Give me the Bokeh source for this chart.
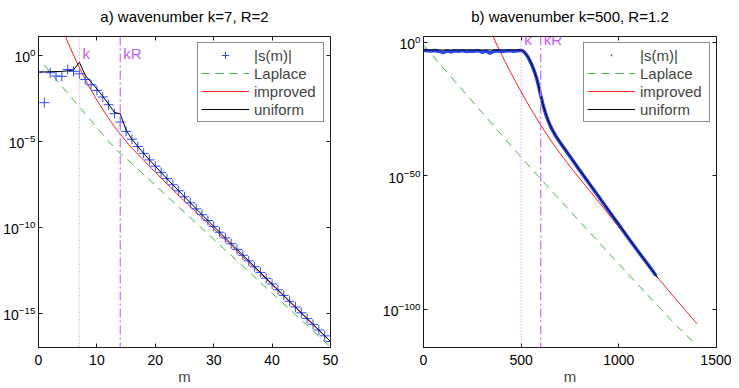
from bokeh.plotting import figure
from bokeh.models import (Range1d, FixedTicker, LogAxis, LinearAxis, Span, Label,
                          Legend, LegendItem, Title)
from bokeh.layouts import row
from bokeh.embed import file_html
from bokeh.resources import INLINE

FONT = "Liberation Sans"

# ---------------- panel a) wavenumber k=7, R=2 (values as log10 exponents read from chart)
k_a = 7
R_a = 2
m_a = list(range(0, 51))
s_a_exp = [-0.97, -2.75, -1.01, -1.20, -1.22, -0.82, -0.93, -1.07, -1.40, -1.71,
           -2.04, -2.42, -2.87, -3.39, -3.88, -4.42, -4.88, -5.30, -5.70, -6.08,
           -6.45, -6.81, -7.17, -7.53, -7.88, -8.23, -8.58, -8.93, -9.27, -9.61,
           -9.95, -10.29, -10.62, -10.96, -11.29, -11.63, -11.96, -12.30, -12.63, -12.97,
           -13.30, -13.64, -13.97, -14.31, -14.64, -14.98, -15.31, -15.65, -15.98, -16.32,
           -16.65]
uniform_a_exp = [-0.97, -0.96, -0.95, -0.94, -0.93, -0.90, -0.84, -0.40, -1.15, -1.55,
                 -1.95, -2.38, -2.84, -3.32, -3.40, -4.35, -4.88, -5.30, -5.70, -6.08,
                 -6.45, -6.81, -7.17, -7.53, -7.88, -8.23, -8.58, -8.93, -9.27, -9.61,
                 -9.95, -10.29, -10.62, -10.96, -11.29, -11.63, -11.96, -12.30, -12.63, -12.97,
                 -13.30, -13.64, -13.97, -14.31, -14.64, -14.98, -15.31, -15.65, -15.98, -16.32,
                 -16.65]
improved_a_m = [4, 5, 6, 7, 8, 9, 10, 11, 12, 13, 14, 15, 16, 18, 20, 22, 24, 26, 28, 30,
                35, 40, 45, 50]
improved_a_exp = [1.65, 0.78, 0.02, -0.72, -1.40, -2.02, -2.60, -3.14, -3.66, -4.14,
                  -4.58, -5.00, -5.40, -6.10, -6.80, -7.48, -8.15, -8.80, -9.44, -10.08,
                  -11.72, -13.35, -15.00, -16.65]
laplace_a_m = [1, 2, 4, 6, 8, 10, 12, 14, 16, 20, 25, 30, 35, 40, 45, 50]
laplace_a_exp = [-0.57, -0.98, -1.80, -2.60, -3.40, -4.20, -5.00, -5.72, -6.30, -7.56,
                 -9.13, -10.70, -12.27, -13.84, -15.40, -16.97]
xticks_a = [0, 10, 20, 30, 40, 50]
yticks_a_exp = [0, -5, -10, -15]
xlim_a = (0, 50)
ylim_a_exp = (-17.0, 1.1)

# ---------------- panel b) wavenumber k=500, R=1.2
k_b = 500
R_b = 1.2
m_b_s = [0, 20, 40, 60, 80, 100, 120, 140, 160, 180, 200, 220, 240, 260, 280, 300,
         320, 340, 360, 380, 400, 420, 440, 460, 480, 500, 510, 520, 530, 540, 550,
         560, 570, 580, 590, 600, 610, 620, 630, 640, 650, 660, 675, 700, 750, 800,
         850, 900, 950, 1000, 1050, 1100, 1150, 1190]
s_b_exp = [-2.95, -3.10, -3.25, -3.05, -3.40, -3.85, -3.20, -3.55, -3.15, -3.30,
           -3.10, -3.45, -3.20, -3.35, -3.10, -3.70, -3.25, -4.10, -3.30, -3.15,
           -3.40, -3.20, -3.10, -3.30, -3.15, -3.00, -3.30, -4.00, -5.00, -6.20,
           -7.70, -9.40, -11.40, -13.70, -16.60, -19.90, -22.90, -25.50, -27.80, -29.70,
           -31.40, -32.90, -34.90, -37.60, -42.80, -48.00, -53.10, -58.20, -63.30, -68.40,
           -73.50, -78.50, -83.40, -87.40]
m_b_u = [0, 500, 510, 520, 530, 540, 550, 560, 570, 580, 590, 600, 610, 620, 630, 640,
         650, 660, 675, 700, 750, 800, 850, 900, 950, 1000, 1050, 1100, 1150, 1200]
uniform_b_exp = [-2.85, -2.85, -3.20, -3.90, -4.90, -6.10, -7.60, -9.30, -11.30, -13.60,
                 -16.50, -19.80, -22.80, -25.40, -27.70, -29.60, -31.30, -32.80, -34.80,
                 -37.50, -42.70, -47.90, -53.00, -58.10, -63.20, -68.30, -73.40, -78.40,
                 -83.40, -88.40]
improved_b_m = [340, 350, 400, 450, 500, 550, 600, 650, 700, 750, 800, 850, 900, 950,
                1000, 1100, 1200, 1300, 1400]
improved_b_exp = [4.55, 3.00, -4.60, -11.80, -18.60, -25.00, -31.00, -36.60, -41.70,
                  -46.50, -51.10, -55.60, -60.10, -64.70, -69.30, -78.80, -88.30,
                  -97.00, -105.50]
laplace_b_m = [0, 100, 200, 300, 400, 500, 600, 700, 800, 900, 1000, 1100, 1200, 1300, 1400]
laplace_b_exp = [-0.97, -9.50, -17.90, -26.30, -34.70, -43.10, -51.20, -59.20, -67.20,
                 -75.20, -83.10, -91.00, -98.80, -106.60, -113.60]
xticks_b = [0, 500, 1000, 1500]
yticks_b_exp = [0, -50, -100]
xlim_b = (0, 1500)
ylim_b_exp = (-114.4, 2.2)

BLUE = "#2f4cff"
BLUE_BAND = "#2a45e6"
GREEN = "#45b045"
RED = "#ff2020"
VIOLET = "#cc77ff"
VIOLET_TXT = "#c060f0"
AX = "#1a1a1a"


def pw(lst):
    return [10.0 ** v for v in lst]


def make_fig(title, xlim, ylim_exp, xticks, yticks_exp, min_left, min_right, frame_w):
    yticks = pw(yticks_exp)
    p = figure(frame_width=frame_w, frame_height=311, y_axis_type="log",
               x_range=Range1d(*xlim), y_range=Range1d(*pw(ylim_exp)),
               output_backend="svg", toolbar_location=None,
               min_border_left=min_left, min_border_right=min_right,
               min_border_top=27, min_border_bottom=34, title=title)
    p.grid.visible = False
    p.outline_line_color = AX
    p.outline_line_width = 1
    p.title.align = "center"
    p.title.text_font = FONT
    p.title.text_font_size = "15px"
    p.title.text_font_style = "normal"
    p.title.text_color = "black"
    p.title.standoff = 10
    p.xaxis.ticker = FixedTicker(ticks=xticks)
    p.yaxis.ticker = FixedTicker(ticks=yticks)
    for ax in list(p.xaxis) + list(p.yaxis):
        ax.major_tick_in = 4
        ax.major_tick_out = 0
        ax.minor_tick_line_color = None
        ax.axis_line_color = AX
        ax.major_tick_line_color = AX
        ax.major_label_text_font = FONT
        ax.major_label_text_font_size = "14px"
        ax.major_label_text_color = "black"
        ax.major_label_standoff = 4
    p.xaxis.major_label_standoff = 7
    p.yaxis.major_label_standoff = 3
    p.xaxis.axis_label = "m"
    p.xaxis.axis_label_text_font = FONT
    p.xaxis.axis_label_text_font_size = "15px"
    p.xaxis.axis_label_text_font_style = "normal"
    p.xaxis.axis_label_standoff = 0
    top = LinearAxis(ticker=FixedTicker(ticks=xticks), major_label_text_font_size="2px",
                     major_label_text_color=None,
                     major_label_standoff=5, major_tick_in=4, major_tick_out=0,
                     minor_tick_line_color=None, axis_line_color=None,
                     major_tick_line_color=AX)
    p.add_layout(top, "above")
    p.add_layout(Title(text=" ", text_font_size="4px", standoff=0), "above")
    right = LogAxis(ticker=FixedTicker(ticks=yticks), major_label_text_font_size="2px",
                    major_label_text_color=None,
                    major_label_standoff=0, major_tick_in=4, major_tick_out=0,
                    minor_tick_line_color=None, axis_line_color=None,
                    major_tick_line_color=AX)
    p.add_layout(right, "right")
    return p


def add_legend(p, items):
    lg = Legend(items=items, location="top_right", margin=6, padding=3, spacing=0,
                glyph_width=48, glyph_height=18, label_height=18, label_width=66,
                label_standoff=5, label_text_font=FONT, label_text_font_size="15px",
                border_line_color=AX, border_line_width=1, background_fill_alpha=1.0,
                background_fill_color="white")
    p.add_layout(lg)


def add_k_lines(p, k, R, ylab_exp):
    kR = k * R
    p.add_layout(Span(location=k, dimension="height", line_color=VIOLET,
                      line_width=1, line_dash="1 2"))
    p.add_layout(Span(location=kR, dimension="height", line_color=VIOLET,
                      line_width=1.3, line_dash="9 3 2 3"))
    for xv, txt in ((k, "k"), (kR, "kR")):
        p.add_layout(Label(x=xv, y=10.0 ** ylab_exp, text=txt, x_offset=3,
                           text_baseline="middle", text_color=VIOLET_TXT,
                           text_font=FONT, text_font_size="15px"))


# ---------- panel a
pa = make_fig("a) wavenumber k=7, R=2", xlim_a, ylim_a_exp, xticks_a, yticks_a_exp,
              31, 39, 292)
add_k_lines(pa, k_a, R_a, 0.09)
ra_lap = pa.line(laplace_a_m, pw(laplace_a_exp), line_color=GREEN, line_width=1,
                 line_dash="8 6")
ra_imp = pa.line(improved_a_m, pw(improved_a_exp), line_color=RED, line_width=1)
ra_s = pa.scatter(m_a, pw(s_a_exp), marker="cross", size=10, line_color=BLUE,
                  line_width=1)
ra_uni = pa.line(m_a, pw(uniform_a_exp), line_color="black", line_width=1)
add_legend(pa, [LegendItem(label="|s(m)|", renderers=[ra_s]),
                LegendItem(label="Laplace", renderers=[ra_lap]),
                LegendItem(label="improved", renderers=[ra_imp]),
                LegendItem(label="uniform", renderers=[ra_uni])])

# ---------- panel b
pb = make_fig("b) wavenumber k=500, R=1.2", xlim_b, ylim_b_exp, xticks_b, yticks_b_exp,
              54, 15, 293)
add_k_lines(pb, k_b, R_b, 1.2)
rb_lap = pb.line(laplace_b_m, pw(laplace_b_exp), line_color=GREEN, line_width=1,
                 line_dash="8 6")
rb_imp = pb.line(improved_b_m, pw(improved_b_exp), line_color=RED, line_width=1)
pb.line(m_b_s, pw(s_b_exp), line_color=BLUE_BAND, line_width=3.5)
rb_s = pb.scatter(m_b_s, pw(s_b_exp), marker="dot", size=9, line_color=BLUE,
                  fill_color=BLUE)
rb_uni = pb.line(m_b_u, pw(uniform_b_exp), line_color="black", line_width=1)
add_legend(pb, [LegendItem(label="|s(m)|", renderers=[rb_s]),
                LegendItem(label="Laplace", renderers=[rb_lap]),
                LegendItem(label="improved", renderers=[rb_imp]),
                LegendItem(label="uniform", renderers=[rb_uni])])

layout = row(pa, pb)
open("out.html", "w").write(file_html(layout, INLINE))
